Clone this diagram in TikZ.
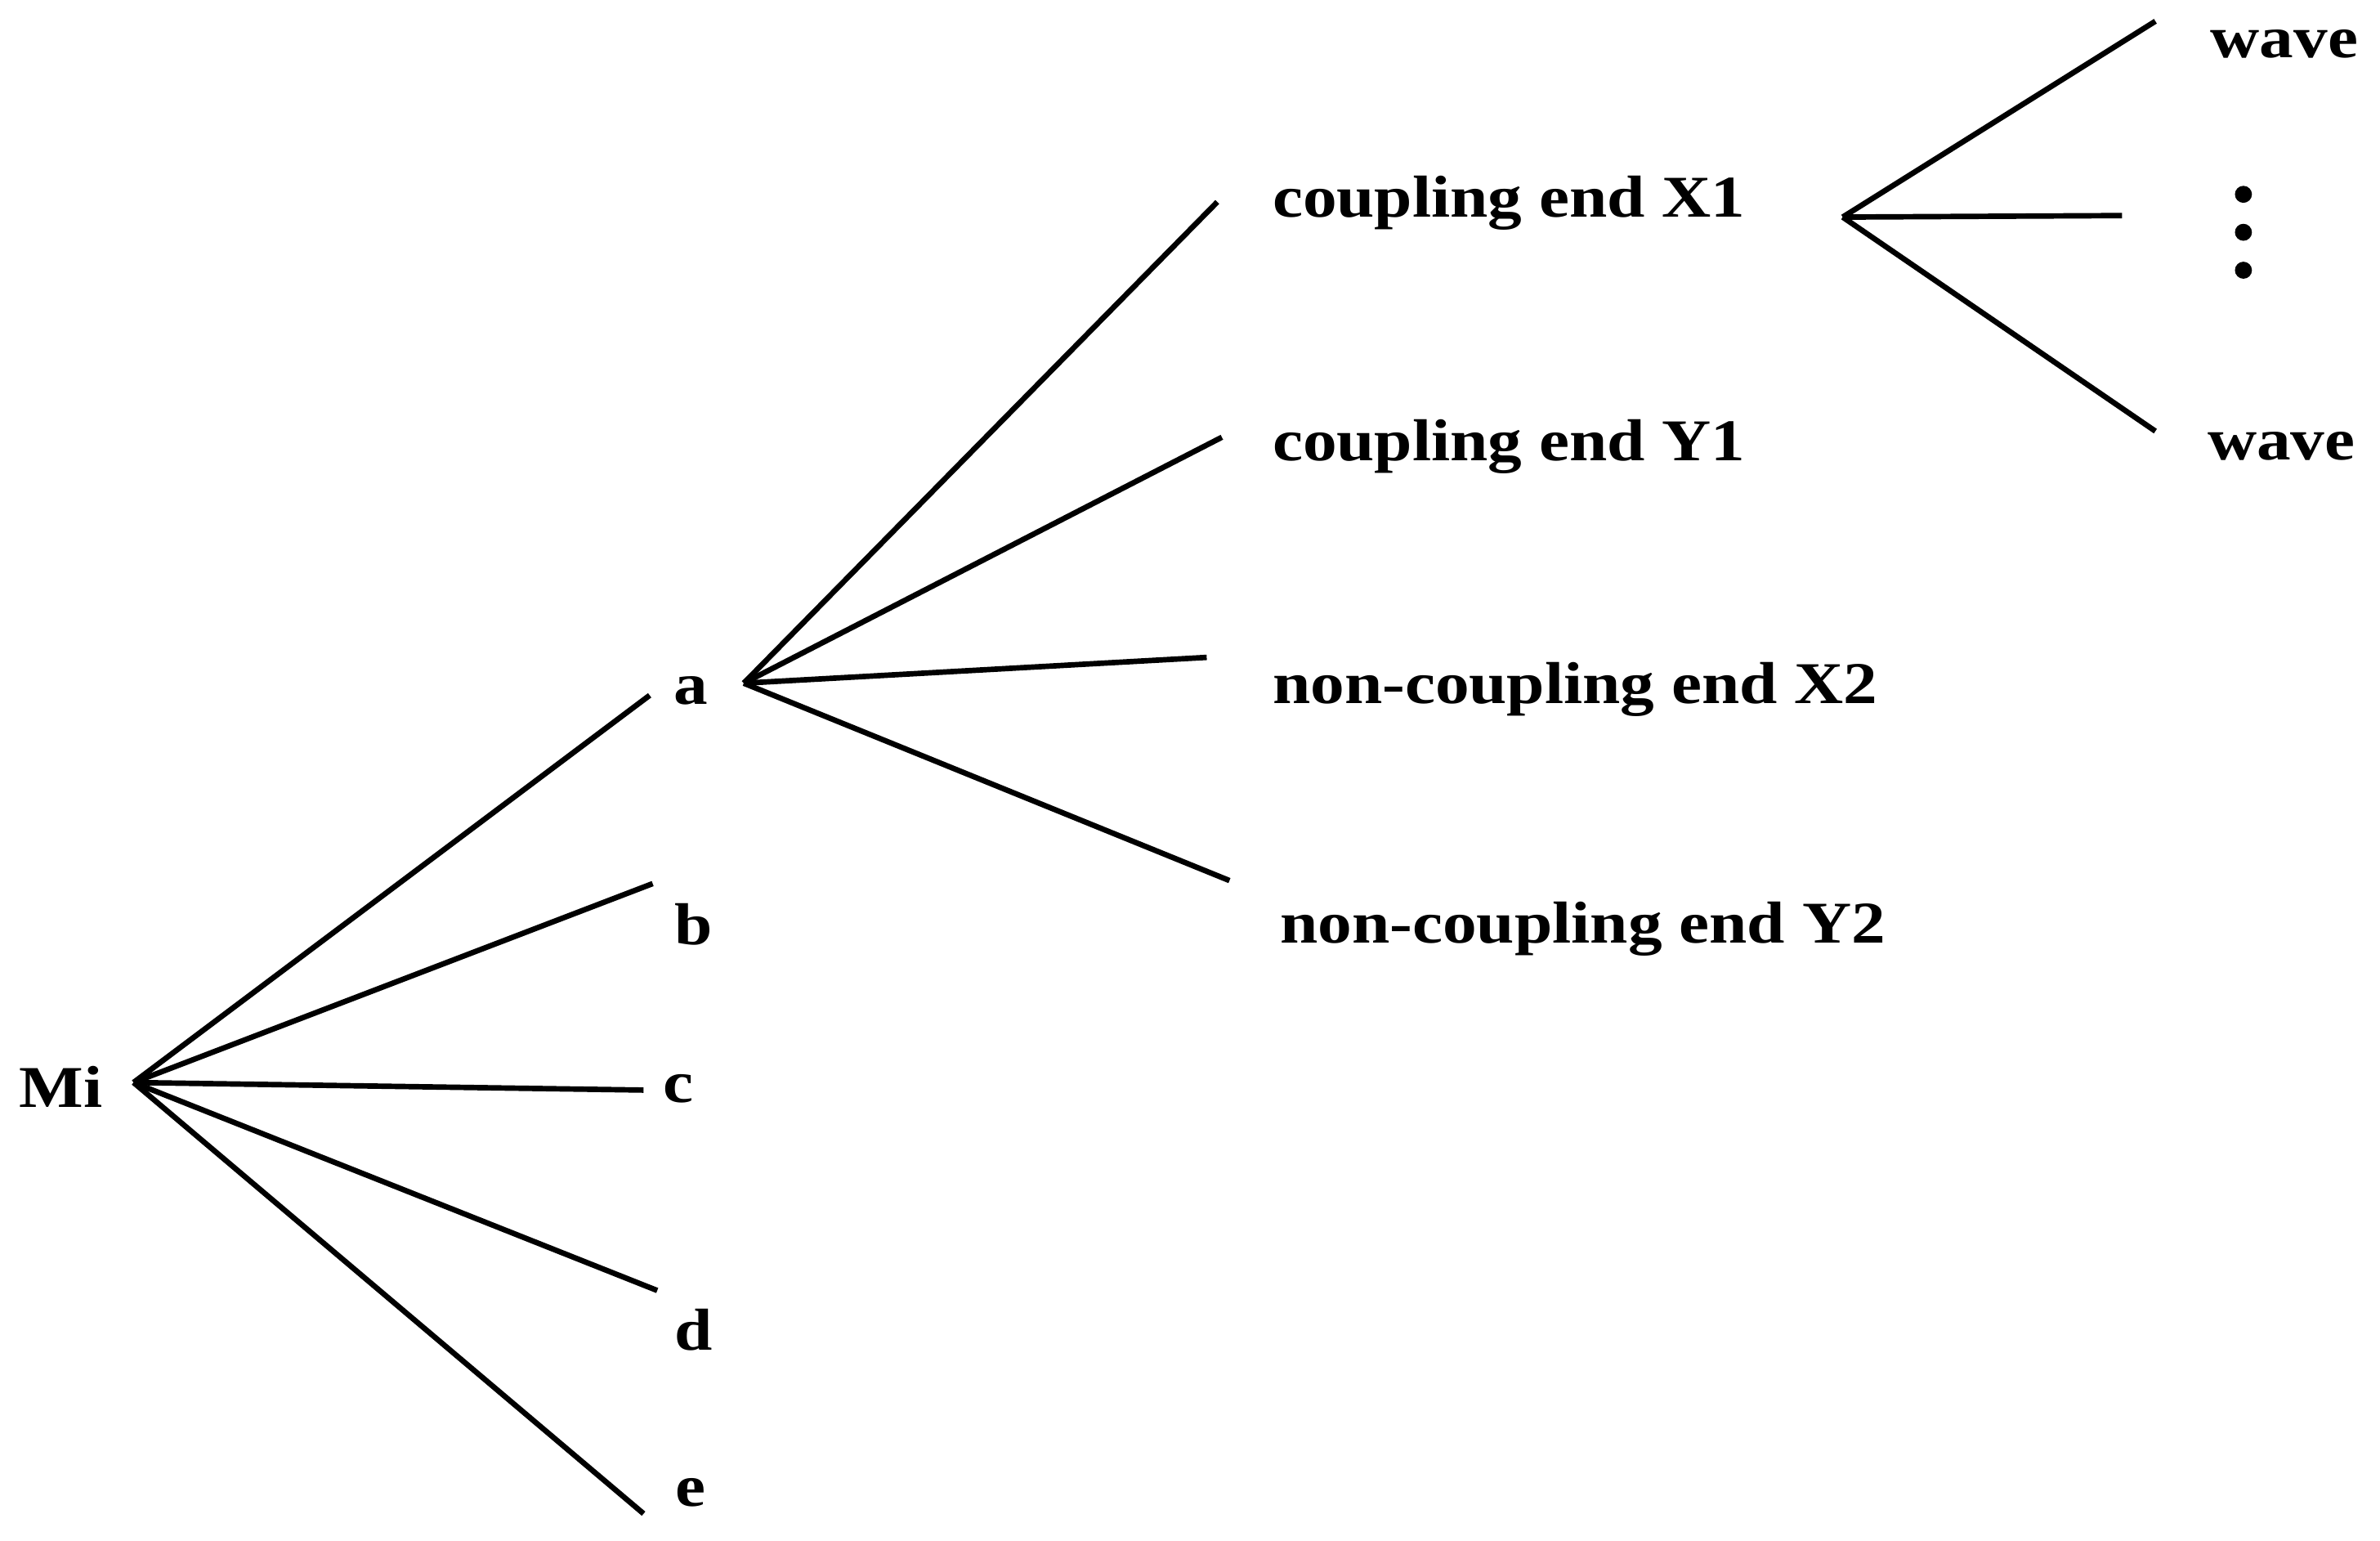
\documentclass[tikz,border=0pt]{standalone}
\usepackage{fontspec}
\setmainfont{Liberation Serif}[FakeStretch=1.15]
\begin{document}
\begin{tikzpicture}[x=0.5pt,y=-0.5pt,
  lab/.style={font=\bfseries\fontsize{19.5}{22}\selectfont,inner sep=0pt},
  br/.style={line width=1.8pt,black}]
\useasboundingbox (0,0) rectangle (1568,1015);
\node[lab] (Mi) at (40,716) {Mi};
\coordinate (m) at (88,713);
\coordinate (ea) at (428,458); \coordinate (eb) at (430,582);
\coordinate (ec) at (424,718); \coordinate (ed) at (433,850);
\coordinate (ee) at (424,997);
\foreach \t in {ea,eb,ec,ed,ee} \draw[br] (m) -- (\t);
\node[lab] (a) at (455,455) {a};
\node[lab] (b) at (457,609) {b};
\node[lab] (c) at (447,717) {c};
\node[lab] (d) at (457,876) {d};
\node[lab] (e) at (455,983) {e};
\coordinate (ja) at (490,450);
\coordinate (e1) at (802,133); \coordinate (e2) at (805,288);
\coordinate (e3) at (795,433); \coordinate (e4) at (810,580);
\foreach \t in {e1,e2,e3,e4} \draw[br] (ja) -- (\t);
\node[lab,anchor=west] (x1) at (838,134) {coupling end X1};
\node[lab,anchor=west] (y1) at (838,294) {coupling end Y1};
\node[lab,anchor=west] (x2) at (838,454) {non-coupling end X2};
\node[lab,anchor=west] (y2) at (843,612) {non-coupling end Y2};
\coordinate (jx) at (1214,143);
\coordinate (w1) at (1420,14); \coordinate (w2) at (1398,142); \coordinate (w3) at (1420,284);
\foreach \t in {w1,w2,w3} \draw[br] (jx) -- (\t);
\node[lab] (wa) at (1505,29) {wave};
\node[lab] (wb) at (1503,294) {wave};
\foreach \y in {128,153,178} \fill (1478,\y) circle (2.8pt);
\end{tikzpicture}
\end{document}
